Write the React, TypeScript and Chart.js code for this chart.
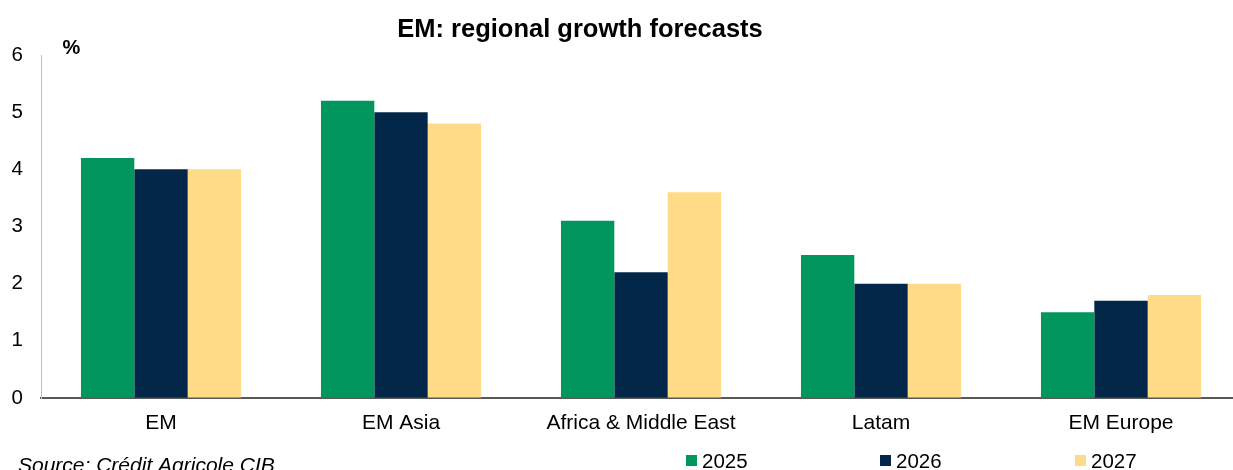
import React, { useEffect, useRef } from "react";
import { Chart, registerables } from "chart.js";

Chart.register(...registerables);

const categories = ["EM", "EM Asia", "Africa & Middle East", "Latam", "EM Europe"];
const seriesLabels = ["2025", "2026", "2027"];
const values2025 = [4.2, 5.2, 3.1, 2.5, 1.5];
const values2026 = [4.0, 5.0, 2.2, 2.0, 1.7];
const values2027 = [4.0, 4.8, 3.6, 2.0, 1.8];
const seriesColors = ["rgb(0,150,94)", "rgb(3,39,73)", "rgb(255,219,136)"];
const yTicks = [0, 1, 2, 3, 4, 5, 6];

const FONT = '"Liberation Sans", Arial, Helvetica, sans-serif';

const decorPlugin = {
  id: "decor",
  afterDraw(chart: any) {
    const ctx = chart.ctx;
    ctx.save();
    ctx.fillStyle = "#000";
    // Title
    ctx.font = `bold 25.5px ${FONT}`;
    ctx.textAlign = "center";
    ctx.textBaseline = "alphabetic";
    ctx.fillText("EM: regional growth forecasts", 580, 37);
    // unit
    ctx.font = `bold 20px ${FONT}`;
    ctx.fillText("%", 71.5, 54);
    // Source
    ctx.font = `italic 21px ${FONT}`;
    ctx.textAlign = "left";
    ctx.fillText("Source: Crédit Agricole CIB", 18, 472);
    // Legend
    const starts = [686, 880, 1075];
    chart.data.datasets.forEach((ds: any, i: number) => {
      const x = starts[i];
      ctx.fillStyle = ds.backgroundColor;
      ctx.fillRect(x, 455, 11, 11);
      ctx.fillStyle = "#000";
      ctx.font = `20.5px ${FONT}`;
      ctx.textAlign = "left";
      ctx.textBaseline = "alphabetic";
      ctx.fillText(ds.label, x + 16, 468);
    });
    ctx.restore();
  },
};

export default function App() {
  const ref = useRef<HTMLCanvasElement>(null);
  useEffect(() => {
    if (!ref.current) return;
    const chart = new Chart(ref.current, {
      type: "bar",
      data: {
        labels: categories,
        datasets: [values2025, values2026, values2027].map((v, i) => ({
          label: seriesLabels[i],
          data: v,
          backgroundColor: seriesColors[i],
          borderWidth: 0,
          categoryPercentage: 0.667,
          barPercentage: 1,
        })),
      },
      options: {
        responsive: false,
        animation: false,
        devicePixelRatio: 1,
        layout: { padding: { top: 55, left: 0, right: 0, bottom: 0 } },
        plugins: {
          legend: { display: false },
          title: { display: false },
          tooltip: { enabled: false },
        },
        scales: {
          x: {
            grid: { display: true, color: "transparent", drawTicks: false },
            border: { display: true, color: "#595959", width: 2 },
            ticks: {
              color: "#000",
              font: { family: FONT, size: 21 },
              padding: 13,
              maxRotation: 0,
            },
            afterFit: (s: any) => {
              s.height = 72;
            },
          },
          y: {
            min: 0,
            max: 6,
            grid: { display: true, color: "transparent", drawTicks: false },
            border: { display: true, color: "#bfbfbf", width: 1 },
            afterBuildTicks: (s: any) => {
              s.ticks = yTicks.map((v) => ({ value: v }));
            },
            ticks: {
              color: "#000",
              font: { family: FONT, size: 20.5 },
              padding: 18,
            },
            afterFit: (s: any) => {
              s.width = 41;
            },
          },
        },
      },
      plugins: [decorPlugin],
    });
    return () => chart.destroy();
  }, []);
  return (
    <div
      style={{
        position: "fixed",
        left: 0,
        top: 0,
        width: 1233,
        height: 470,
        overflow: "hidden",
        background: "#fff",
      }}
    >
      <canvas ref={ref} width={1241} height={470} style={{ width: 1241, height: 470, display: "block" }} />
    </div>
  );
}
